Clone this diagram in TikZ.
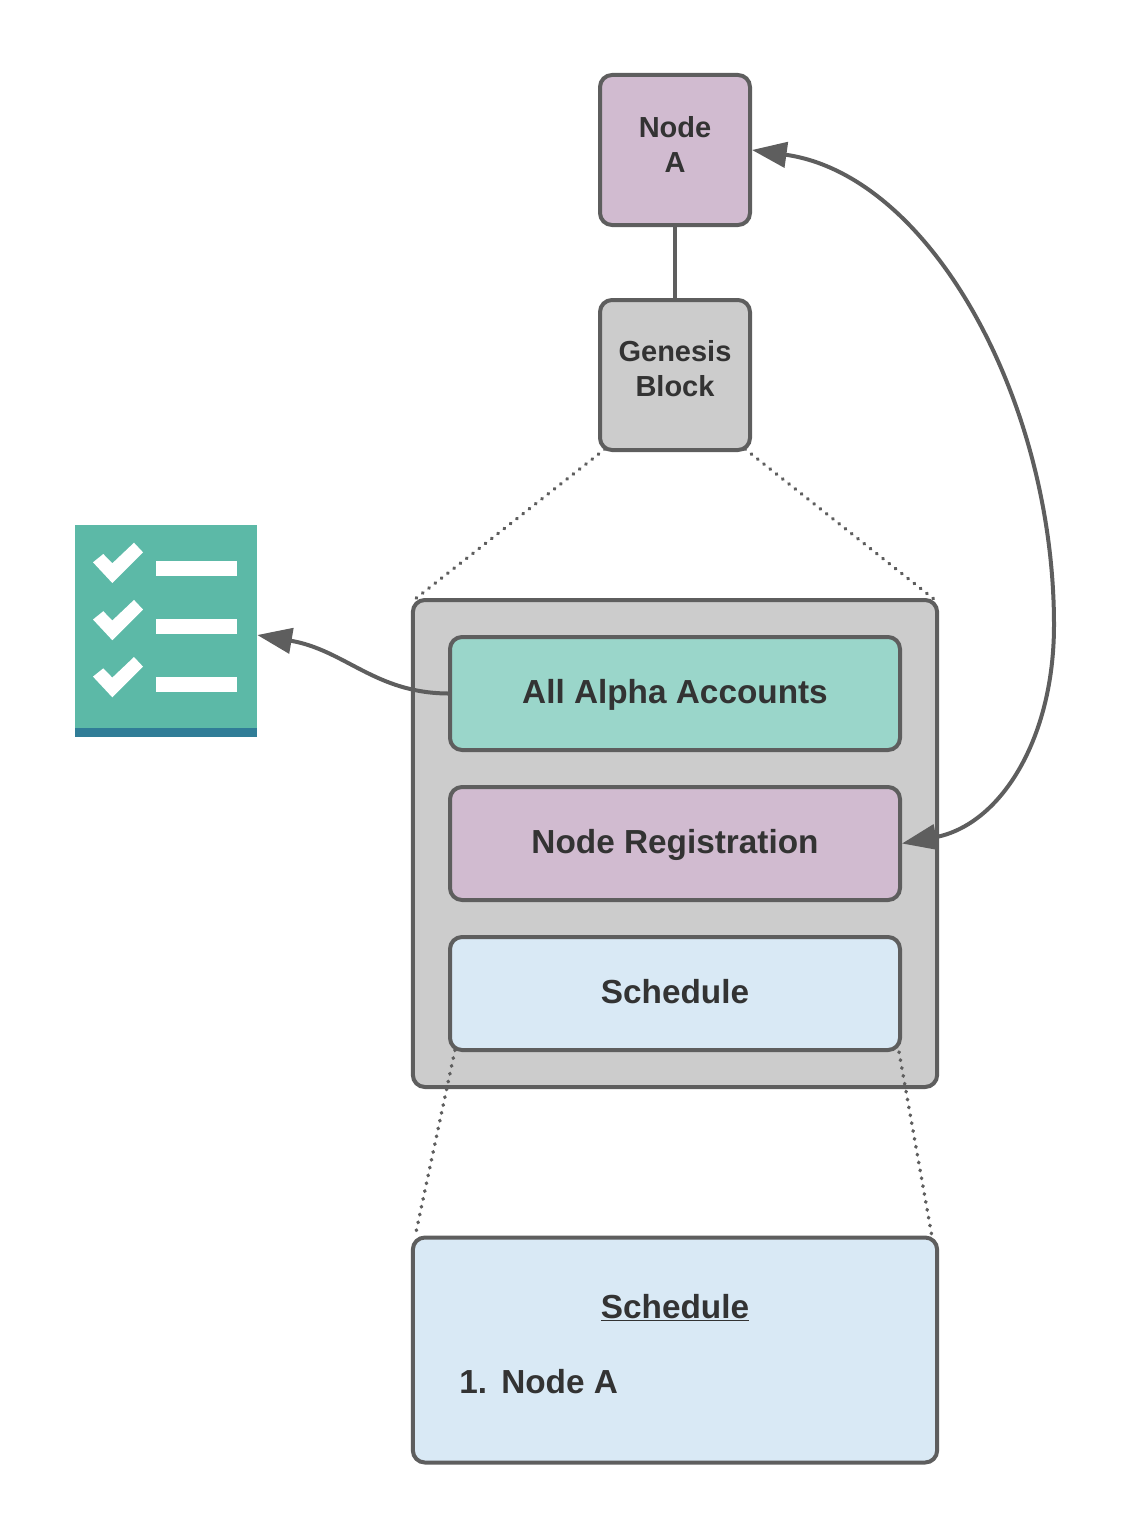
\documentclass[tikz,border=0pt]{standalone}
\usepackage{fontspec}
\setmainfont{Liberation Sans}
\usetikzlibrary{arrows.meta,calc}
\definecolor{edgegray}{HTML}{5E5E5E}
\definecolor{inkdark}{HTML}{333333}
\definecolor{boxpurple}{HTML}{D1BBD0}
\definecolor{boxgray}{HTML}{CCCCCC}
\definecolor{boxgreen}{HTML}{9AD6CA}
\definecolor{boxblue}{HTML}{D9E9F5}
\definecolor{iconteal}{HTML}{5CB9A7}
\definecolor{iconband}{HTML}{307D97}
\tikzset{
  x=0.75pt,y=-0.75pt,
  panel/.style={draw=edgegray,line width=3pt,rounded corners=9pt,inner sep=0pt,font=\bfseries\fontsize{25pt}{26pt}\selectfont,text=inkdark,text height=19pt,text depth=3.5pt},
  small/.style={font=\bfseries\fontsize{21.75pt}{26.25pt}\selectfont,text=inkdark,align=center,inner sep=0pt},
  big/.style={font=\bfseries\fontsize{25pt}{26pt}\selectfont,text=inkdark,inner sep=0pt},
  conn/.style={draw=edgegray,line width=3pt},
  dots/.style={draw=edgegray,line width=2.7pt,line cap=round,dash pattern=on 0.4pt off 5.6pt}
}
\begin{document}
\begin{tikzpicture}
\useasboundingbox (0,0) rectangle (1129,1538);
% boxes
\node[panel,fill=boxpurple,minimum width=112.5pt,minimum height=112.5pt] (nodeA) at (675,150) {};
\node[small] (nodeAtext) at (675,144.5) {Node\\A};
\node[panel,fill=boxgray,minimum width=112.5pt,minimum height=112.5pt] (genesis) at (675,375) {};
\node[small] (genesistext) at (675,369) {Genesis\\Block};
\node[panel,fill=boxgray,minimum width=393.2pt,minimum height=365.25pt] (outer) at (675,843.5) {};
\node[panel,fill=boxgreen,minimum width=337.5pt,minimum height=84.75pt] (alpha) at (675,693.5) {All Alpha Accounts};
\node[panel,fill=boxpurple,minimum width=337.5pt,minimum height=84.75pt] (reg) at (675,843.5) {Node Registration};
\node[panel,fill=boxblue,minimum width=337.5pt,minimum height=84.75pt] (sched) at (675,993.5) {Schedule};
\node[panel,fill=boxblue,minimum width=393.2pt,minimum height=168.75pt] (detail) at (675,1350) {};
\node[big] (dtitle) at (675,1307.5) {\underline{Schedule}};
\node[big,anchor=west] (dnum) at (459,1382) {1.};
\node[big,anchor=west] (ditem) at (501,1382) {Node A};
% icon
\node[fill=iconteal,draw=none,minimum width=136.5pt,minimum height=159pt,inner sep=0pt] (icon) at (166,631) {};
\fill[iconband] (75,728) rectangle (257,737);
\foreach \d in {0,57.2,114.3}{
  \fill[white] (93,562.3+\d) -- (103.3,554+\d) -- (112.3,563.3+\d) -- (134,542.7+\d) -- (143,552.3+\d) -- (112.3,583+\d) -- cycle;
}
\foreach \d in {0,58,116}{
  \fill[white] (156,561+\d) rectangle (236.5,576+\d);
}
% connectors
\draw[conn] (nodeA.south) -- (genesis.north);
\draw[dots] ($(genesis.south west)+(5.25pt,2.25pt)$) -- ($(outer.north west)+(2.25pt,-1.5pt)$);
\draw[dots] ($(genesis.south east)+(-5.25pt,2.25pt)$) -- ($(outer.north east)+(-3pt,-1.5pt)$);
\draw[dots] ($(sched.south west)+(5.25pt,1.5pt)$) -- ($(detail.north west)+(3pt,-1.5pt)$);
\draw[dots] ($(sched.south east)+(-2.25pt,0pt)$) -- ($(detail.north east)+(-5.25pt,-1.5pt)$);
\draw[conn,-{Triangle[length=26pt,width=19pt,fill=edgegray]}] (alpha.west) .. controls (375,693) and (345,650) .. (icon.east |- 0,635);
\draw[conn,{Triangle[length=26pt,width=19pt,fill=edgegray]}-{Triangle[length=26pt,width=19pt,fill=edgegray]}] (reg.east) .. controls (1000,825) and (1054,740) .. (1054,625) .. controls (1054,400) and (930,175) .. (nodeA.east);
\end{tikzpicture}
\end{document}
